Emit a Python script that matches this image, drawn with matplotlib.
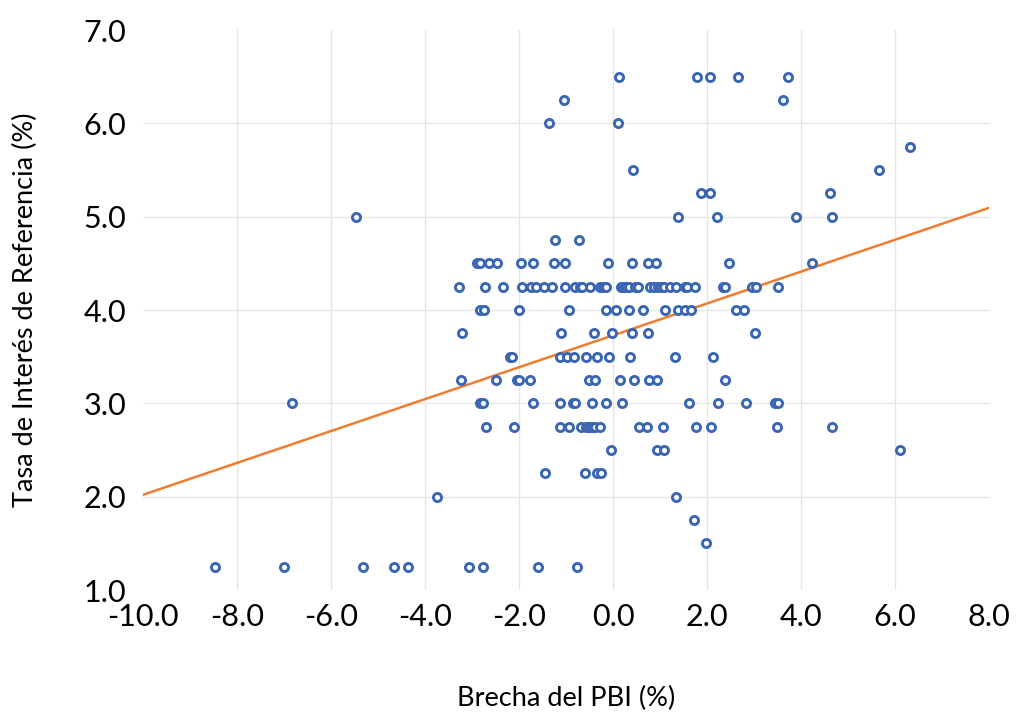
import numpy as np
import matplotlib
matplotlib.use("Agg")
import matplotlib.pyplot as plt

# Output gap (%) and reference rate (%), listed row by row (rate level)
gap = [
    0.12, 1.78, 2.06, 2.65, 3.72,                      # 6.50
    -1.04, 3.62,                                       # 6.25
    -1.37, 0.10,                                       # 6.00
    6.31,                                              # 5.75
    0.42, 5.65,                                        # 5.50
    1.88, 2.06, 4.62,                                  # 5.25
    -5.47, 1.39, 2.21, 3.89, 4.65,                     # 5.00
    -1.23, -0.73,                                      # 4.75
    -2.89, -2.84, -2.64, -2.47, -1.95, -1.71, -1.25, -1.03, -0.11, 0.41,
    0.75, 0.91, 2.47, 4.23,                            # 4.50
    -3.28, -2.73, -2.35, -1.94, -1.74, -1.63, -1.47, -1.30, -1.03, -0.80,
    -0.71, -0.66, -0.50, -0.27, -0.21, -0.14, 0.18, 0.23, 0.28, 0.34,
    0.47, 0.54, 0.79, 0.88, 0.95, 1.02, 1.09, 1.21, 1.33, 1.53, 1.57,
    1.74, 2.34, 2.39, 2.96, 3.05, 3.52,                # 4.25
    -2.84, -2.75, -2.01, -0.93, -0.14, 0.07, 0.33, 0.64, 1.10, 1.38,
    1.53, 1.67, 2.62, 2.78,                            # 4.00
    -3.22, -1.11, -0.40, -0.02, 0.40, 0.75, 3.02,      # 3.75
    -2.20, -2.14, -1.12, -0.97, -0.83, -0.58, -0.33, -0.08, 0.36, 1.32,
    2.13,                                              # 3.50
    -3.23, -2.50, -2.04, -1.99, -1.77, -0.52, -0.38, 0.15, 0.45, 0.76,
    0.93, 2.38,                                        # 3.25
    -6.83, -2.84, -2.77, -1.71, -1.13, -0.85, -0.81, -0.45, -0.15, 0.19,
    1.62, 2.23, 2.84, 3.45, 3.52,                      # 3.00
    -2.71, -2.11, -1.13, -0.94, -0.69, -0.58, -0.51, -0.45, -0.39, -0.28,
    0.55, 0.72, 1.06, 1.76, 2.09, 3.48, 4.67,          # 2.75
    -0.04, 0.93, 1.09, 6.11,                           # 2.50
    -1.45, -0.60, -0.35, -0.25,                        # 2.25
    -3.74, 1.33,                                       # 2.00
    1.72,                                              # 1.75
    1.97,                                              # 1.50
    -8.47, -7.01, -5.31, -4.66, -4.37, -3.06, -2.77, -1.60, -0.77,  # 1.25
]

rate_levels = [6.50, 6.25, 6.00, 5.75, 5.50, 5.25, 5.00, 4.75, 4.50, 4.25,
               4.00, 3.75, 3.50, 3.25, 3.00, 2.75, 2.50, 2.25, 2.00, 1.75,
               1.50, 1.25]
level_counts = [5, 2, 2, 1, 2, 3, 5, 2, 14, 37,
                14, 7, 11, 12, 15, 17, 4, 4, 2, 1,
                1, 9]
rate = [lvl for lvl, n in zip(rate_levels, level_counts) for _ in range(n)]

x_ticks = [-10, -8, -6, -4, -2, 0, 2, 4, 6, 8]
y_ticks = [1, 2, 3, 4, 5, 6, 7]

plt.rcParams['font.family'] = ['Lato', 'DejaVu Sans']

fig = plt.figure(figsize=(10.17, 7.13), dpi=100)
ax = fig.add_axes([143 / 1017, 1 - 590 / 713, (989 - 143) / 1017, (590 - 30) / 713])

x = np.array(gap)
y = np.array(rate[:len(gap)])

ax.scatter(x, y, s=34, facecolors='white', edgecolors='#3A66B3',
           linewidths=2.1, zorder=3)

slope, intercept = np.polyfit(x, y, 1)
xl = np.array([x_ticks[0], x_ticks[-1]])
ax.plot(xl, intercept + slope * xl, color='#ED7D31', lw=1.8, zorder=2)

ax.set_xlim(x_ticks[0], x_ticks[-1])
ax.set_ylim(y_ticks[0], y_ticks[-1])
ax.set_xticks(x_ticks)
ax.set_yticks(y_ticks)
ax.set_xticklabels([f"{v:.1f}" for v in x_ticks])
ax.set_yticklabels([f"{v:.1f}" for v in y_ticks])
ax.tick_params(axis='both', length=0, labelsize=22, colors='black')
ax.tick_params(axis='x', pad=9)
ax.tick_params(axis='y', pad=12)

# inner gridlines only (no frame lines at the limits)
for v in x_ticks[1:-1]:
    ax.axvline(v, color='#E6E6E6', lw=1.0, zorder=0)
for v in y_ticks[1:-1]:
    ax.axhline(v, color='#E6E6E6', lw=1.0, zorder=0)
for s in ax.spines.values():
    s.set_visible(False)

ax.set_xlabel("Brecha del PBI (%)", fontsize=19.5, labelpad=40)
ax.set_ylabel("Tasa de Interés de Referencia (%)", fontsize=19.5, labelpad=33)

fig.savefig("out.png", dpi=100, facecolor='white')
